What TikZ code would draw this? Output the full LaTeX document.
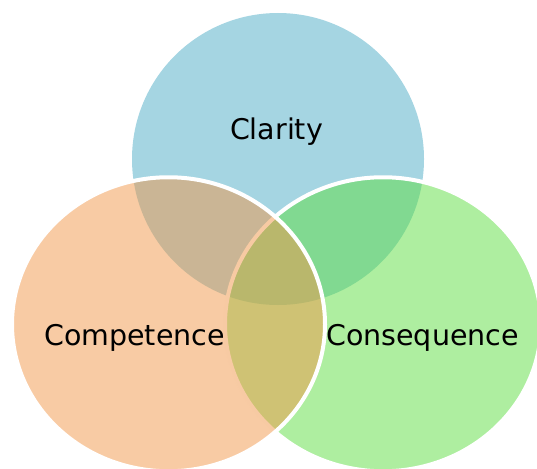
\documentclass[tikz,border=0pt]{standalone}
\usepackage{fontspec}
\setmainfont{DejaVu Sans}
\usetikzlibrary{shapes.geometric}
\definecolor{cblue}{RGB}{75,171,197}
\definecolor{corange}{RGB}{241,151,73}
\definecolor{cgreen}{RGB}{93,221,65}
\begin{document}
\begin{tikzpicture}[x=1pt,y=-1pt,
  blob/.style={ellipse, inner sep=0pt, outer sep=0pt, fill opacity=0.5, draw opacity=1},
  lbl/.style={font=\fontsize{28.5}{34}\selectfont, anchor=base, inner sep=0pt, text=black, text opacity=1}]
\useasboundingbox (0,0) rectangle (537,468);
\clip (0,0) rectangle (537,468);
\node[blob, fill=cblue, minimum width=292pt, minimum height=292pt] (clar) at (278,159) {};
\node[lbl] (tclar) at (276.5,139) {Clarity};
\node[blob, fill=cgreen, draw=white, line width=4pt, minimum width=316pt, minimum height=294pt] (cons) at (383,324.25) {};
\node[lbl] (tcons) at (422.5,345) {Consequence};
\node[blob, fill=corange, draw=white, line width=4pt, minimum width=313pt, minimum height=294pt] (comp) at (168.5,324.25) {};
\node[lbl] (tcomp) at (134.5,345) {Competence};
\end{tikzpicture}
\end{document}
